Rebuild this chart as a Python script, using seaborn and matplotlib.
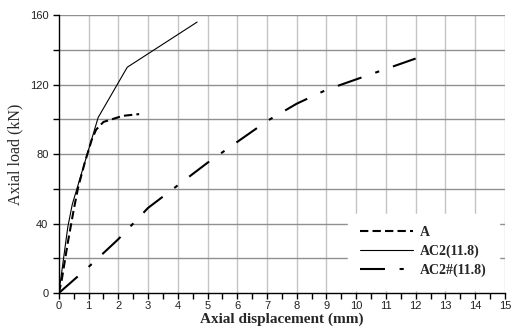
import numpy as np
import pandas as pd
import seaborn as sns
import matplotlib.pyplot as plt
from matplotlib.ticker import MultipleLocator

# data
a_disp = [0, 0.1, 0.3, 0.5, 0.65, 0.87, 1.1, 1.25, 1.5, 2.15, 2.7]
a_load = [0, 8, 29, 48, 61, 75, 88, 94, 98.5, 102, 103]

ac2_disp = [0, 0.15, 0.3, 0.45, 1.32, 2.3, 4.65]
ac2_load = [0, 19, 38, 51, 101, 130, 156]

ac2h_disp = [0, 1, 2, 3, 4, 5, 6, 7, 8, 9, 10, 11, 12]
ac2h_load = [0, 15, 31, 49, 62, 75, 87, 99, 109, 117, 123, 129, 135]

names = ["A", "AC2(11.8)", "AC2#(11.8)"]

df = pd.concat([
    pd.DataFrame({"x": a_disp, "y": a_load, "s": names[0]}),
    pd.DataFrame({"x": ac2_disp, "y": ac2_load, "s": names[1]}),
    pd.DataFrame({"x": ac2h_disp, "y": ac2h_load, "s": names[2]}),
])

sns.set_style("white")
plt.rcParams["font.family"] = ["Liberation Sans", "DejaVu Sans"]

fig, ax = plt.subplots(figsize=(5.12, 3.36), dpi=100)
fig.subplots_adjust(left=0.115, right=0.986, bottom=0.128, top=0.955)

styles = {
    names[0]: dict(lw=1.5, ls=(0, (4, 2))),
    names[1]: dict(lw=0.8, ls="-"),
    names[2]: dict(lw=1.5, ls=(0, (12, 7, 2, 7))),
}
for n in names:
    sns.lineplot(data=df[df.s == n], x="x", y="y", ax=ax, color="black",
                 label=n, sort=False, estimator=None, zorder=3,
                 linewidth=styles[n]["lw"], linestyle=styles[n]["ls"])

ax.set_xlim(0, 15)
ax.set_ylim(0, 160)
ax.set_xticks(range(0, 16))
ax.xaxis.set_minor_locator(MultipleLocator(0.5))
ax.set_yticks([0, 40, 80, 120, 160])
ax.yaxis.set_minor_locator(MultipleLocator(20))

# grid: light verticals, darker horizontals
for x in range(1, 16):
    ax.axvline(x, color="#c4c4c4", lw=1.0, zorder=1)
for y in range(20, 161, 20):
    ax.axhline(y, color="#909090", lw=1.0, zorder=1)

for s in ["top", "right"]:
    ax.spines[s].set_visible(False)
for s in ["left", "bottom"]:
    ax.spines[s].set_color("black")
    ax.spines[s].set_linewidth(1.0)
    ax.spines[s].set_zorder(4)

ax.tick_params(axis="both", which="both", direction="out", length=4,
               width=1.0, color="black", labelsize=8, labelcolor="#222222",
               bottom=True, left=True)
ax.tick_params(axis="x", pad=2)

ax.set_xlabel("Axial displacement (mm)", family="Liberation Serif",
              fontweight="bold", fontsize=11, labelpad=1)
ax.set_ylabel("Axial load (kN)", family="Liberation Serif", fontsize=11.5,
              labelpad=5)

leg = ax.legend(loc="upper left", bbox_to_anchor=(0.648, 0.285),
                borderaxespad=0, borderpad=0.9, frameon=True, fancybox=False,
                framealpha=1, edgecolor="white", handlelength=3.8,
                handletextpad=0.5,
                prop={"family": "Liberation Serif", "weight": "bold", "size": 10},
                labelspacing=0.4)
leg.set_zorder(5)

fig.savefig("out.png", dpi=100)
